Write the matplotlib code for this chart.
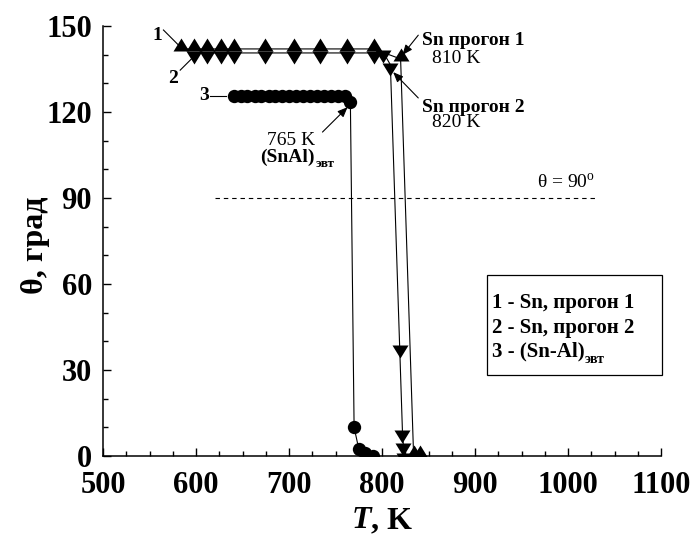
import matplotlib
matplotlib.use("Agg")
import matplotlib.pyplot as plt
from matplotlib.patches import Rectangle
from matplotlib.ticker import MultipleLocator

plt.rcParams['font.family'] = ['Liberation Serif', 'DejaVu Serif']
plt.rcParams['mathtext.fontset'] = 'custom'
plt.rcParams['mathtext.rm'] = 'Liberation Serif'

# ---- data ----
s1_T = [584, 598, 612, 627, 641, 674, 705, 733, 762, 791, 820, 834, 841]
s1_theta = [142.0, 142.0, 142.0, 142.0, 142.0, 142.0, 142.0, 142.0, 142.0, 142.0, 138.5, 0.0, 0.0]

s2_T = [598, 612, 627, 641, 674, 705, 733, 762, 791, 801, 809, 819, 822, 823, 824]
s2_theta = [140.6, 140.6, 140.6, 140.6, 140.6, 140.6, 140.6, 140.6, 140.6, 141.0, 136.5, 38.0, 8.4, 3.8, 0.5]

s3_T = [641, 648, 655, 663, 670, 678, 685, 693, 700, 708, 715, 723, 730, 738, 745, 753, 760, 766, 770, 775, 782, 790]
s3_theta = [125.5, 125.5, 125.5, 125.5, 125.5, 125.5, 125.5, 125.5, 125.5, 125.5, 125.5, 125.5, 125.5, 125.5, 125.5, 125.5, 125.5, 123.5, 10.0, 2.5, 1.0, 0.0]

ref_theta = 90
ref_T = [620, 1032]

legend_labels = ['1 - Sn, прогон 1', '2 - Sn, прогон 2', '3 - (Sn-Al)']
xticks = [500, 600, 700, 800, 900, 1000, 1100]
yticks = [0, 30, 60, 90, 120, 150]

# ---- figure ----
fig = plt.figure(figsize=(6.94, 5.49), dpi=100)
ax = fig.add_axes([103/694, 1-456/549, (661-103)/694, (456-26)/549])

up_marker = [(-8, -2), (8, -2), (0, 11), (-8, -2)]
down_marker = [(-8, 2), (8, 2), (0, -11), (-8, 2)]
ms_tri = 2*11*0.72

ax.plot(s1_T, s1_theta, color='black', lw=0.8, marker=up_marker, ms=ms_tri,
        mfc='black', mec='black', mew=0)
ax.plot(s2_T, s2_theta, color='black', lw=0.8, marker=down_marker, ms=ms_tri,
        mfc='black', mec='black', mew=0)
ax.plot(s3_T, s3_theta, color='black', lw=0.8, marker='o', ms=9.6,
        mfc='black', mec='black', mew=0)

ax.plot(ref_T, [ref_theta, ref_theta], color='black', lw=0.8, ls=(0, (4, 3.5)))

ax.set_xlim(500, 1100)
ax.set_ylim(0, 150)
ax.set_xticks(xticks)
ax.set_yticks(yticks)
ax.xaxis.set_minor_locator(MultipleLocator(25))
ax.yaxis.set_minor_locator(MultipleLocator(10))
ax.spines['top'].set_visible(False)
ax.spines['right'].set_visible(False)
for s in ['left', 'bottom']:
    ax.spines[s].set_linewidth(1.1)
ax.tick_params(which='both', direction='in', width=1.0, top=False, right=False)
ax.tick_params(which='major', length=6)
ax.tick_params(which='minor', length=3.5)
ax.tick_params(axis='x', which='major', pad=11)
ax.tick_params(axis='y', which='major', pad=8)
for lab in ax.get_xticklabels() + ax.get_yticklabels():
    lab.set_fontweight('bold')
    lab.set_fontsize(22)

# axis labels
fig.text(35/694, 1-245/549, 'θ, град', rotation=90, ha='center', va='center',
         fontsize=23, fontweight='bold')
fig.text(371/694, 1-521/549, 'T', ha='right', va='center', fontsize=23,
         fontweight='bold', style='italic')
fig.text(371/694, 1-521/549, ', K', ha='left', va='center', fontsize=23,
         fontweight='bold')

# series labels
lw_ann = 0.8
ax.text(558, 146.8, '1', fontsize=14, fontweight='bold', ha='center', va='center')
ax.plot([565, 581], [148.6, 143.4], color='black', lw=lw_ann, clip_on=False)
ax.text(575, 131.8, '2', fontsize=14, fontweight='bold', ha='center', va='center')
ax.plot([583, 596], [134.6, 138.8], color='black', lw=lw_ann, clip_on=False)
ax.text(609, 125.6, '3', fontsize=14, fontweight='bold', ha='center', va='center')
ax.plot([615, 632], [125.6, 125.6], color='black', lw=lw_ann)

arrow_kw = dict(arrowstyle='-|>,head_length=0.6,head_width=0.25', color='black', lw=lw_ann,
                shrinkA=0, shrinkB=0)

# 765 K annotation
ax.annotate('', xy=(763, 121.7), xytext=(736, 113), arrowprops=arrow_kw)
ax.text(702, 110.2, '765 K', fontsize=14, ha='center', va='center')
t_snal = ax.text(669, 104.3, '(SnAl)', fontsize=14, fontweight='bold', ha='left', va='center')
ax.annotate('эвт', xy=(1, 0.12), xycoords=t_snal, xytext=(0.5, 0), textcoords='offset points',
            fontsize=9.5, fontweight='bold', ha='left', va='center')

# Sn run annotations
ax.annotate('', xy=(822, 139.9), xytext=(839, 146.8), arrowprops=arrow_kw)
ax.text(843, 145.1, 'Sn прогон 1', fontsize=14, fontweight='bold', ha='left', va='center')
ax.text(854, 138.6, '810 K', fontsize=14, ha='left', va='center')
ax.annotate('', xy=(812, 133.9), xytext=(839, 124.9), arrowprops=arrow_kw)
ax.text(843, 121.7, 'Sn прогон 2', fontsize=14, fontweight='bold', ha='left', va='center')
ax.text(854, 116.3, '820 K', fontsize=14, ha='left', va='center')

# theta = 90 label
ax.text(998, 95.2, r'θ = 90$^{\rm o}$', fontsize=14, ha='center', va='center')

# legend box
ax.add_patch(Rectangle((913, 28.3), 1101-913, 63.1-28.3, fill=False, ec='black',
                       lw=0.9, clip_on=False))
ys = [53.4, 44.6, 36.3]
t = None
for lab, y in zip(legend_labels, ys):
    t = ax.text(918, y, lab, fontsize=15, fontweight='bold', ha='left', va='center')
ax.annotate('эвт', xy=(1, 0.12), xycoords=t, xytext=(0.5, 0), textcoords='offset points',
            fontsize=10, fontweight='bold', ha='left', va='center')

fig.savefig('out.png', dpi=100)
